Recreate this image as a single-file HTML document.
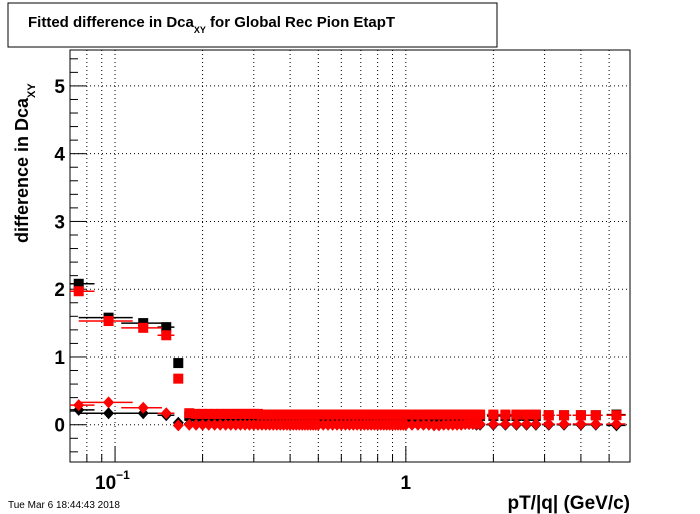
<!DOCTYPE html>
<html><head><meta charset="utf-8"><style>
body{margin:0;background:#fff;}
svg{display:block;font-family:"Liberation Sans",sans-serif;font-weight:bold;}
</style></head><body>
<svg id="c" width="700" height="514" viewBox="0 0 700 514" xmlns="http://www.w3.org/2000/svg">
<rect x="0" y="0" width="700" height="514" fill="#fff"/>
<g>
<rect x="8" y="3" width="489" height="44" fill="#fff" stroke="#000" stroke-width="1"/>
<text x="28" y="27" font-size="15">Fitted difference in Dca<tspan font-size="9" dy="6">XY</tspan><tspan dy="-6"> for Global Rec Pion EtapT</tspan></text>
</g>
<text transform="translate(28,243) rotate(-90)" font-size="18">difference in Dca<tspan font-size="11" dy="7">XY</tspan></text>
<text x="630" y="509" font-size="19" text-anchor="end">pT/|q| (GeV/c)</text>
<text x="8" y="508" font-size="10" font-weight="normal">Tue Mar  6 18:44:43 2018</text>
<g id="grid"></g><g id="axes"></g><g id="marks"></g>
</svg>
<script>
const ptBins=[0.075,0.095,0.125,0.15,0.165,
0.18,0.19,0.20,0.21,0.22,0.23,0.24,0.25,0.26,0.27,0.28,0.29,0.30,0.31,0.32,0.33,0.34,0.35,0.36,0.37,0.38,0.39,0.40,0.41,0.42,0.43,0.44,0.45,0.46,0.47,0.48,0.49,0.50,
0.52,0.54,0.56,0.58,0.60,0.62,0.64,0.66,0.68,0.70,0.72,0.74,0.76,0.78,0.80,0.82,0.84,0.86,0.88,0.90,0.92,0.94,0.96,0.98,1.00,
1.05,1.10,1.15,1.20,1.25,1.30,1.35,1.40,1.45,1.50,1.55,1.60,1.65,1.70,1.75,1.80,
2.0,2.2,2.4,2.6,2.8,3.1,3.5,4.0,4.5,5.3];
const ptHalfWidth=[0.01,0.02,0.02,0.01,0.005,
0.005,0.005,0.005,0.005,0.005,0.005,0.005,0.005,0.005,0.005,0.005,0.005,0.005,0.005,0.005,0.005,0.005,0.005,0.005,0.005,0.005,0.005,0.005,0.005,0.005,0.005,0.005,0.005,0.005,0.005,0.005,0.005,0.005,
0.01,0.01,0.01,0.01,0.01,0.01,0.01,0.01,0.01,0.01,0.01,0.01,0.01,0.01,0.01,0.01,0.01,0.01,0.01,0.01,0.01,0.01,0.01,0.01,0.01,
0.025,0.025,0.025,0.025,0.025,0.025,0.025,0.025,0.025,0.025,0.025,0.025,0.025,0.025,0.025,0.025,
0.1,0.1,0.1,0.1,0.1,0.15,0.2,0.25,0.25,0.4];
const blackSquare=[2.08,1.58,1.50,1.44,0.91,
0.13,0.13,0.13,0.13,0.13,0.13,0.13,0.13,0.13,0.13,0.13,0.13,0.13,0.13,0.13,0.13,0.13,0.13,0.13,0.13,0.13,0.13,0.13,0.13,0.13,0.13,0.13,0.13,0.13,0.13,0.13,0.13,0.13,
0.13,0.13,0.13,0.13,0.13,0.13,0.13,0.13,0.13,0.13,0.13,0.13,0.13,0.13,0.13,0.13,0.13,0.13,0.13,0.13,0.13,0.13,0.13,0.13,0.13,
0.13,0.13,0.13,0.13,0.13,0.13,0.13,0.13,0.13,0.13,0.13,0.13,0.13,0.13,0.13,0.13,
0.13,0.13,0.13,0.13,0.13,0.14,0.14,0.14,0.14,0.15];
const redSquare=[1.97,1.53,1.43,1.32,0.68,
0.17,0.16,0.16,0.16,0.16,0.16,0.16,0.16,0.16,0.16,0.16,0.16,0.16,0.16,0.15,0.15,0.15,0.15,0.15,0.15,0.15,0.15,0.15,0.15,0.15,0.15,0.15,0.15,0.15,0.15,0.15,0.15,0.15,
0.15,0.15,0.15,0.15,0.15,0.15,0.15,0.15,0.15,0.15,0.15,0.15,0.15,0.15,0.15,0.15,0.15,0.15,0.15,0.15,0.15,0.15,0.15,0.15,0.15,
0.15,0.15,0.15,0.15,0.15,0.15,0.15,0.15,0.15,0.15,0.15,0.15,0.15,0.15,0.15,0.15,
0.15,0.15,0.15,0.15,0.15,0.14,0.14,0.14,0.14,0.14];
const blackDiamond=[0.22,0.17,0.17,0.14,0.03,
0.01,0.01,0.01,0.01,0.01,0.01,0.01,0.01,0.01,0.01,0.01,0.01,0.01,0.01,0.01,0.01,0.01,0.01,0.01,0.01,0.01,0.01,0.01,0.01,0.01,0.01,0.01,0.01,0.01,0.01,0.01,0.01,0.01,
0.01,0.01,0.01,0.01,0.01,0.01,0.01,0.01,0.01,0.01,0.01,0.01,0.01,0.01,0.01,0.01,0.01,0.01,0.01,0.01,0.01,0.01,0.01,0.01,0.01,
0.01,0.01,0.01,0.01,0.01,0.01,0.01,0.01,0.01,0.01,0.01,0.01,0.01,0.01,0.0,0.0,
0.0,0.0,0.0,0.0,0.0,0.0,0.0,0.0,0.0,-0.01];
const redDiamond=[0.29,0.33,0.25,0.17,-0.01,
0.0,0.0,0.0,0.0,0.0,0.0,0.0,0.0,0.0,0.0,0.0,0.0,0.0,0.0,0.0,0.0,0.0,0.0,0.0,0.0,0.0,0.0,0.0,0.0,0.0,0.0,0.0,0.0,0.0,0.0,0.0,0.0,0.0,
0.0,0.0,0.0,0.0,0.0,0.0,0.0,0.0,0.0,0.0,0.0,0.0,0.0,0.0,0.0,0.0,0.0,0.0,0.0,0.0,0.0,0.0,0.0,0.0,0.0,
0.0,0.0,0.0,0.0,-0.01,-0.01,0.0,0.0,0.0,0.0,0.0,0.01,0.01,0.01,0.01,0.01,
0.01,0.01,0.01,0.01,0.01,0.01,0.01,0.01,0.01,0.01];
const yTickLabels=["0","1","2","3","4","5"];

const NS="http://www.w3.org/2000/svg";
const L=70,R=630,T=50,B=462;
const xMin=0.07,xMax=5.9,yMin=-0.55,yMax=5.53;
function X(v){return L+(Math.log10(v)-Math.log10(xMin))/(Math.log10(xMax)-Math.log10(xMin))*(R-L);}
function Y(v){return B-(v-yMin)/(yMax-yMin)*(B-T);}
function mk(tag,attrs,parent){const e=document.createElementNS(NS,tag);for(const k in attrs)e.setAttribute(k,attrs[k]);parent.appendChild(e);return e;}
const grid=document.getElementById('grid'),axes=document.getElementById('axes'),marks=document.getElementById('marks');

for(let d=-2;d<=0;d++){for(let m=1;m<=9;m++){const v=m*Math.pow(10,d);if(v<xMin||v>xMax)continue;const x=X(v);
 const g=mk('line',{x1:x,x2:x,y1:T,y2:B,stroke:'#000','stroke-dasharray':'1,3','stroke-width':1},grid);
 
 const t=mk('line',{x1:x,x2:x,y1:B,y2:B-(m===1?16:8),stroke:'#000','stroke-width':1},axes);
 }}
for(let i=0;i<yTickLabels.length;i++){const y=Y(i);
 const g=mk('line',{x1:L,x2:R,y1:y,y2:y,stroke:'#000','stroke-dasharray':'1,3','stroke-width':1},grid);
 
 const tx=mk('text',{x:L-5,y:y+7,'font-size':19,'text-anchor':'end'},axes);tx.textContent=yTickLabels[i];
 }
for(let v=-0.4;v<yMax;v+=0.2){const y=Y(v);const major=Math.abs(v-Math.round(v))<0.01;
 const t=mk('line',{x1:L,x2:L+(major?16:8),y1:y,y2:y,stroke:'#000','stroke-width':1},axes);
 }
const fr=mk('rect',{x:L,y:T,width:R-L,height:B-T,fill:'none',stroke:'#000','stroke-width':1},axes);

const xl1=mk('text',{x:X(0.1)-20,y:489,'font-size':19},axes);xl1.innerHTML='10<tspan font-size="12" dy="-10">−1</tspan>';

const xl2=mk('text',{x:X(1),y:489,'font-size':19,'text-anchor':'middle'},axes);xl2.textContent='1';


function series(vals,color,shape,name){
 for(let i=0;i<ptBins.length;i++){const x=X(ptBins[i]),y=Y(vals[i]);
  const x1=X(Math.max(xMin,ptBins[i]-ptHalfWidth[i])),x2=X(Math.min(xMax,ptBins[i]+ptHalfWidth[i]));
  const e=mk('line',{x1:x1,x2:x2,y1:y,y2:y,stroke:color,'stroke-width':1.5},marks);
  
  let m;
  if(shape==='sq')m=mk('rect',{x:x-5,y:y-5,width:10,height:10,fill:color},marks);
  else m=mk('polygon',{points:`${x},${y-6} ${x+5.5},${y} ${x},${y+6} ${x-5.5},${y}`,fill:color},marks);
  }}
series(blackSquare,'#000','sq','black-square');
series(blackDiamond,'#000','di','black-diamond');
series(redSquare,'#f00','sq','red-square');
series(redDiamond,'#f00','di','red-diamond');
</script>
</body></html>
